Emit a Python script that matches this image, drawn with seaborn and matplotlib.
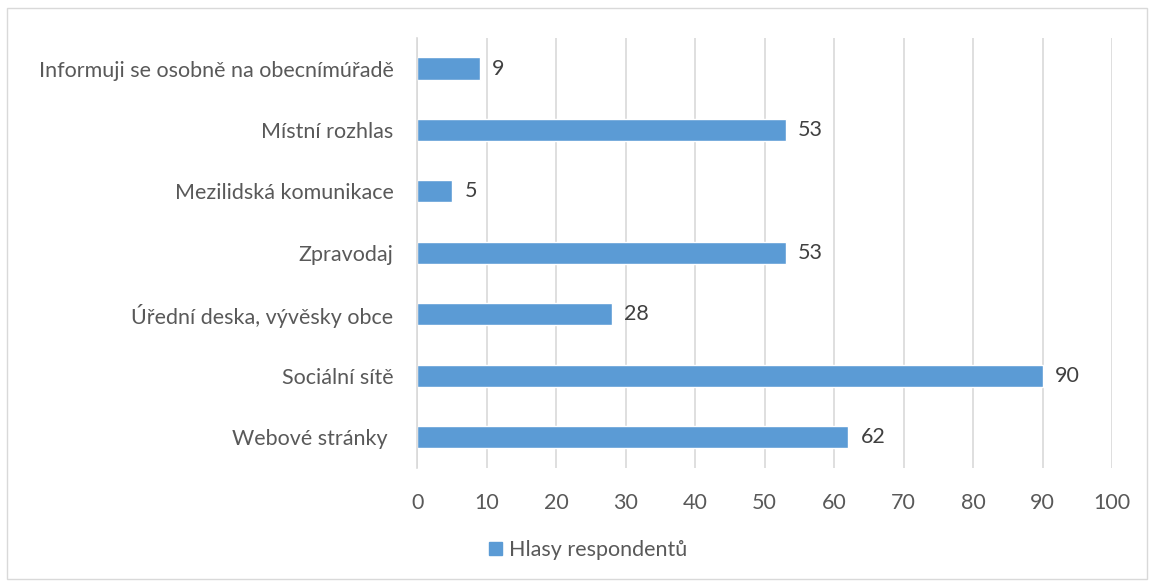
import numpy as np
import matplotlib
matplotlib.use("Agg")
import matplotlib.pyplot as plt
import seaborn as sns
import pandas as pd
from matplotlib.patches import Rectangle, Patch

categories = ["Informuji se osobně na obecnímúřadě", "Místní rozhlas",
              "Mezilidská komunikace", "Zpravodaj",
              "Úřední deska, vývěsky obce", "Sociální sítě", "Webové stránky "]
votes = [9, 53, 5, 53, 28, 90, 62]
xticks = list(range(0, 101, 10))
series_name = "Hlasy respondentů"

sns.set_style("white")
plt.rcParams["font.family"] = ["Lato", "DejaVu Sans"]

bar_color = "#5B9BD5"
text_color = "#595959"
fs = 15.5

df = pd.DataFrame({"kategorie": categories, "hlasy": votes})

fig = plt.figure(figsize=(11.49, 5.82), dpi=100)
ax = fig.add_axes([0.363, 0.196, 0.605, 0.739])

sns.barplot(data=df, x="hlasy", y="kategorie", color=bar_color,
            width=0.36, ax=ax, saturation=1)

ax.set_xlim(0, 100)
ax.set_xticks(xticks)
ax.set_xlabel("")
ax.set_ylabel("")
ax.xaxis.grid(True, color="#D9D9D9", linewidth=1.2)
ax.set_axisbelow(True)
for s in ["top", "right", "bottom"]:
    ax.spines[s].set_visible(False)
ax.spines["left"].set_color("#D9D9D9")
ax.spines["left"].set_linewidth(1.2)
ax.tick_params(axis="x", length=0, pad=18, labelsize=fs, labelcolor=text_color)
ax.tick_params(axis="y", length=0, pad=17, labelsize=fs, labelcolor=text_color)

for cont in ax.containers:
    ax.bar_label(cont, padding=9, fontsize=fs, color="#404040")

fig.legend(handles=[Patch(color=bar_color)], labels=[series_name],
           loc="center", bbox_to_anchor=(0.512, 0.055), frameon=False,
           fontsize=fs, labelcolor=text_color, handlelength=0.6,
           handleheight=0.6, handletextpad=0.3)

fig.patches.append(Rectangle((0.006, 0.006), 0.992, 0.98, transform=fig.transFigure,
                             fill=False, edgecolor="#D9D9D9", linewidth=1))

fig.savefig("out.png", dpi=100)
